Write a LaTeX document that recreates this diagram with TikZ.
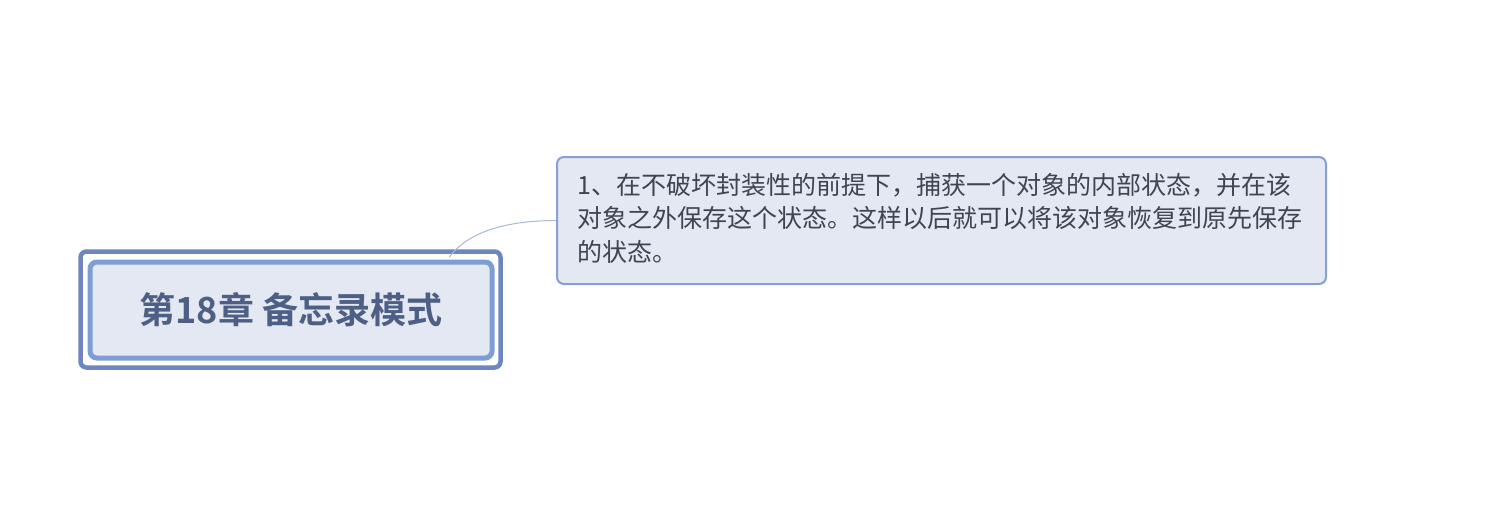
\documentclass[tikz,border=0pt]{standalone}
\usepackage{fontspec}
\newfontfamily\cjk{Noto Sans CJK SC}
\newfontfamily\cjkb{Noto Sans CJK SC Bold}
\definecolor{rootouter}{HTML}{6E85BF}
\definecolor{rootinner}{HTML}{7E9DD2}
\definecolor{boxfill}{HTML}{E3E8F2}
\definecolor{childline}{HTML}{86A0D2}
\definecolor{roottext}{HTML}{4D5F84}
\definecolor{bodytext}{HTML}{3E4450}
\definecolor{linkcol}{HTML}{A9B9DA}
\tikzset{
  rootouterbox/.style={draw=rootouter, line width=4.5pt, rounded corners=6pt, fill=white,
    minimum width=420pt, minimum height=116pt, inner sep=0pt},
  rootinnerbox/.style={draw=rootinner, line width=5pt, rounded corners=7pt, fill=boxfill,
    minimum width=402pt, minimum height=96pt, inner sep=0pt,
    font=\cjkb\fontsize{36}{40}\selectfont, text=roottext},
  childbox/.style={draw=childline, line width=2pt, rounded corners=7pt, fill=boxfill,
    minimum width=769pt, minimum height=127pt, inner sep=0pt},
  bodystyle/.style={font=\cjk\fontsize{25}{33.5}\selectfont, text=bodytext, align=left, inner sep=0pt},
  link/.style={draw=linkcol, line width=1pt},
}
\begin{document}
\begin{tikzpicture}[x=1pt,y=-1pt]
\useasboundingbox[fill=white] (0,0) rectangle (1506,524);
% boxes
\node[rootouterbox] (rootout) at (290.5,309.5) {};
\node[childbox] (childbox) at (941.5,220.5) {};
% connector
\coordinate (ls) at ([xshift=-53.5pt,yshift=-8pt]rootout.north east);
\draw[link] (ls) .. controls +(18,-25) and +(-50,0) .. (childbox.west);
% root
\node[rootinnerbox] (root) at (291,310) {第18章 备忘录模式};
% child text
\node[bodystyle, anchor=north west] (child) at ([xshift=21pt,yshift=-17pt]childbox.north west)
{1、在不破坏封装性的前提下，捕获一个对象的内部状态，并在该\\对象之外保存这个状态。这样以后就可以将该对象恢复到原先保存\\的状态。};
\end{tikzpicture}
\end{document}
